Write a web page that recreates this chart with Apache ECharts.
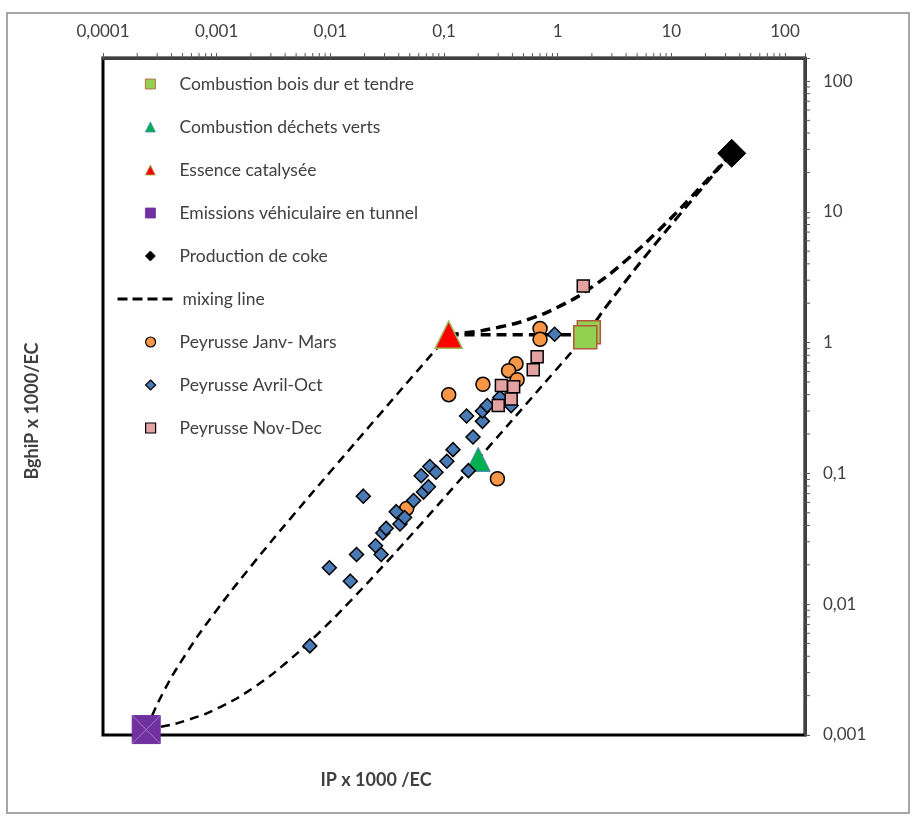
<!DOCTYPE html>
<html>
<head>
<meta charset="utf-8">
<script src="https://cdn.jsdelivr.net/npm/echarts@6/dist/echarts.min.js"></script>
<style>
  html, body { margin: 0; padding: 0; background: #ffffff; }
  #chart { width: 912px; height: 820px; }
</style>
</head>
<body>
<div id="chart"></div>
<script>
// End-members (IP x 1000/EC, BghiP x 1000/EC)
const woodBurning = [[1.88, 1.2], [1.75, 1.1]];
const greenWasteBurning = [[0.2, 0.128]];
const catalyticGasoline = [[0.11, 1.15]];
const tunnelEmissions = [[0.00024, 0.0011]];
const cokeProduction = [[34, 28]];

// Peyrusse samples, by season
const peyrusseJanMar = [
  [0.70, 1.28], [0.70, 1.06], [0.43, 0.69], [0.37, 0.61], [0.44, 0.52],
  [0.22, 0.48], [0.11, 0.40], [0.295, 0.091], [0.047, 0.054]
];
const peyrusseAprOct = [
  [0.0066, 0.0048], [0.0098, 0.019], [0.015, 0.015], [0.017, 0.024], [0.0195, 0.067],
  [0.025, 0.028], [0.028, 0.024], [0.029, 0.035], [0.031, 0.038], [0.038, 0.051],
  [0.041, 0.041], [0.045, 0.046], [0.054, 0.062], [0.066, 0.072], [0.073, 0.079],
  [0.063, 0.096], [0.075, 0.113], [0.085, 0.102], [0.106, 0.124], [0.12, 0.152],
  [0.164, 0.105], [0.18, 0.19], [0.158, 0.275], [0.218, 0.25], [0.218, 0.30],
  [0.24, 0.33], [0.39, 0.33], [0.31, 0.38], [0.94, 1.16]
];
const peyrusseNovDec = [
  [1.68, 2.71], [0.66, 0.78], [0.61, 0.62], [0.32, 0.47], [0.41, 0.46],
  [0.39, 0.37], [0.30, 0.33]
];

// Mixing lines between pairs of end-members
const mixTunnelGasoline = [
  [0.00024, 0.0011], [0.000295, 0.00167], [0.000405, 0.00282], [0.00068, 0.0057],
  [0.00134, 0.0126], [0.00298, 0.0298], [0.00683, 0.070], [0.0167, 0.173],
  [0.0387, 0.403], [0.0716, 0.748], [0.11, 1.15]
];
const mixTunnelWood = [
  [0.00024, 0.0011], [0.00042, 0.00121], [0.00078, 0.00144], [0.0015, 0.0019],
  [0.00294, 0.00282], [0.00564, 0.00455], [0.011, 0.008], [0.0218, 0.0149],
  [0.0452, 0.0298], [0.0902, 0.0585], [0.18, 0.116], [0.36, 0.231],
  [0.72, 0.461], [1.26, 0.805], [1.8, 1.15]
];
const mixGasolineWood = [[0.11, 1.15], [1.8, 1.15]];
const mixGasolineCoke = [
  [0.11, 1.15], [0.212, 1.23], [0.449, 1.42], [0.788, 1.69], [1.47, 2.22],
  [2.82, 3.30], [5.53, 5.45], [10.95, 9.74], [20.4, 17.3], [34, 28]
];
const mixWoodCoke = [
  [1.8, 1.15], [2.44, 1.69], [3.41, 2.49], [5.02, 3.84], [8.24, 6.52],
  [14.7, 11.9], [24.3, 19.9], [34, 28]
];

// Axis ranges and ticks
const xRange = [0.0001, 150];
const yRange = [0.001, 150];
const xDecades = [0.0001, 0.001, 0.01, 0.1, 1, 10];
const yDecades = [0.001, 0.01, 0.1, 1, 10];
const minorSteps = [2, 3, 4, 5, 6, 7, 8, 9];

const FONT = 'Lato, "Open Sans", sans-serif';
const TEXT = '#404040';

const xMinor = xDecades.flatMap(d => minorSteps.map(m => d * m));
const yMinor = yDecades.flatMap(d => minorSteps.map(m => d * m));

function decadeLabel(v) {
  const e = Math.log10(v);
  const r = Math.round(e);
  if (Math.abs(e - r) > 1e-6) return '';
  const s = r >= 0 ? String(Math.round(Math.pow(10, r))) : Math.pow(10, r).toFixed(-r);
  return s.replace('.', ',');
}

const mixStyle = { color: '#000', width: 2.5, type: [9, 6] };
const mixStyleBold = { color: '#000', width: 3.5, type: [10, 6] };

function mixSeries(data, style) {
  return {
    type: 'line', name: 'mixing line', data: data, symbol: 'none',
    smooth: 0.2, lineStyle: style,
    itemStyle: { color: 'rgba(0,0,0,0)', borderWidth: 0 },
    z: 2, silent: true
  };
}

function minorTickSeries(values, horizontal) {
  return {
    type: 'custom', silent: true, z: 1,
    data: values.map(v => horizontal ? [v, yRange[1]] : [xRange[1], v]),
    renderItem: function (params, api) {
      const p = api.coord([api.value(0), api.value(1)]);
      return {
        type: 'line',
        shape: horizontal
          ? { x1: p[0], y1: p[1], x2: p[0], y2: p[1] - 5 }
          : { x1: p[0], y1: p[1], x2: p[0] + 5, y2: p[1] },
        style: { stroke: '#595959', lineWidth: 1 }
      };
    }
  };
}

const ICON_RECT = 'path://M0,0H10V10H0Z';
const ICON_TRI = 'path://M5,0L10,10H0Z';
const ICON_DIAMOND = 'path://M5,0L10,5L5,10L0,5Z';
const ICON_X = 'path://M0,0L10,10M10,0L0,10';

const legendText = { fontFamily: FONT, fontSize: 17.5, color: TEXT, lineHeight: 18 };

const chart = echarts.init(document.getElementById('chart'), null, { renderer: 'canvas' });

chart.setOption({
  animation: false,
  backgroundColor: '#ffffff',
  grid: {
    left: 103, right: 107, top: 58, bottom: 85,
    show: true, borderColor: '#000', borderWidth: 3, backgroundColor: 'transparent'
  },
  xAxis: {
    type: 'log', logBase: 10, position: 'top',
    min: xRange[0], max: xRange[1],
    axisLine: { show: true, lineStyle: { color: '#404040', width: 3 } },
    axisTick: { show: true, inside: false, length: 5, lineStyle: { color: '#595959', width: 1 } },
    axisLabel: { margin: 18, fontFamily: FONT, fontSize: 17, color: TEXT, formatter: decadeLabel },
    splitLine: { show: false }
  },
  yAxis: {
    type: 'log', logBase: 10, position: 'right',
    min: yRange[0], max: yRange[1],
    axisLine: { show: true, lineStyle: { color: '#404040', width: 3 } },
    axisTick: { show: true, inside: false, length: 5, lineStyle: { color: '#595959', width: 1 } },
    axisLabel: { margin: 18, fontFamily: FONT, fontSize: 17, color: TEXT, formatter: decadeLabel },
    splitLine: { show: false }
  },
  legend: [
    {
      orient: 'vertical', left: 145, top: 75, padding: 0, itemGap: 25,
      itemWidth: 48, itemHeight: 10, textStyle: legendText, selectedMode: false,
      itemStyle: { borderWidth: 0.8 },
      data: [
        { name: 'Combustion bois dur et tendre', icon: ICON_RECT },
        { name: 'Combustion déchets verts', icon: ICON_TRI },
        { name: 'Essence catalysée', icon: ICON_TRI },
        { name: 'Emissions véhiculaire en tunnel', icon: ICON_RECT },
        { name: 'Production de coke', icon: ICON_DIAMOND }
      ]
    },
    {
      orient: 'vertical', left: 116, top: 290, padding: 0,
      itemWidth: 60, itemHeight: 12, textStyle: legendText, selectedMode: false,
      lineStyle: { color: '#000', width: 3, type: [10, 5] },
      itemStyle: { opacity: 0 },
      data: ['mixing line']
    },
    {
      orient: 'vertical', left: 145, top: 333, padding: 0, itemGap: 25,
      itemWidth: 48, itemHeight: 10, textStyle: legendText, selectedMode: false,
      itemStyle: { borderWidth: 1.2 },
      data: [
        { name: 'Peyrusse Janv- Mars', icon: 'circle' },
        { name: 'Peyrusse Avril-Oct', icon: ICON_DIAMOND },
        { name: 'Peyrusse Nov-Dec', icon: ICON_RECT }
      ]
    }
  ],
  graphic: [
    {
      type: 'rect', silent: true, z: -10,
      shape: { x: 7, y: 13, width: 902, height: 800 },
      style: { fill: 'none', stroke: '#a6a6a6', lineWidth: 2 }
    },
    {
      type: 'text', x: 376, y: 780, silent: true,
      style: { text: 'IP x 1000 /EC', font: 'bold 18px ' + FONT, fill: TEXT, align: 'center', verticalAlign: 'middle' }
    },
    {
      type: 'text', x: 32, y: 411, rotation: Math.PI / 2, silent: true,
      style: { text: 'BghiP x 1000/EC', font: 'bold 18px ' + FONT, fill: TEXT, align: 'center', verticalAlign: 'middle' }
    }
  ],
  series: [
    minorTickSeries(xMinor, true),
    minorTickSeries(yMinor, false),
    mixSeries(mixGasolineWood, mixStyleBold),
    mixSeries(mixGasolineCoke, mixStyleBold),
    mixSeries(mixWoodCoke, { color: '#000', width: 3, type: [10, 6] }),
    mixSeries(mixTunnelGasoline, mixStyle),
    mixSeries(mixTunnelWood, mixStyle),
    {
      type: 'scatter', name: 'Combustion bois dur et tendre', data: woodBurning,
      symbol: 'rect', symbolSize: 23, z: 4,
      itemStyle: { color: '#92d050', borderColor: '#b5553a', borderWidth: 1.5, opacity: 1 }
    },
    {
      type: 'scatter', name: 'Combustion déchets verts', data: greenWasteBurning,
      symbol: 'triangle', symbolSize: 24, z: 4,
      itemStyle: { color: '#00b050', borderColor: '#4f81bd', borderWidth: 1, opacity: 1 }
    },
    {
      type: 'scatter', name: 'Essence catalysée', data: catalyticGasoline,
      symbol: 'triangle', symbolSize: 27, z: 4,
      itemStyle: { color: '#ff0000', borderColor: '#9bbb59', borderWidth: 1.5, opacity: 1 }
    },
    {
      type: 'scatter', name: 'Emissions véhiculaire en tunnel', data: tunnelEmissions,
      symbol: 'rect', symbolSize: 28, z: 4,
      itemStyle: { color: '#7030a0', borderColor: '#7030a0', borderWidth: 1, opacity: 1 }
    },
    {
      type: 'scatter', name: 'Emissions véhiculaire en tunnel', data: tunnelEmissions,
      symbol: ICON_X, symbolSize: 28, z: 4, silent: true,
      itemStyle: { color: 'transparent', borderColor: '#9d7fc2', borderWidth: 1, opacity: 1 }
    },
    {
      type: 'scatter', name: 'Production de coke', data: cokeProduction,
      symbol: 'diamond', symbolSize: 28, z: 4,
      itemStyle: { color: '#000000', borderColor: '#000000', borderWidth: 1, opacity: 1 }
    },
    {
      type: 'scatter', name: 'Peyrusse Janv- Mars', data: peyrusseJanMar,
      symbol: 'circle', symbolSize: 14, z: 5,
      itemStyle: { color: '#f79646', borderColor: '#000000', borderWidth: 1.5, opacity: 1 }
    },
    {
      type: 'scatter', name: 'Peyrusse Avril-Oct', data: peyrusseAprOct,
      symbol: 'diamond', symbolSize: 14, z: 5,
      itemStyle: { color: '#4a7ab5', borderColor: '#000000', borderWidth: 1.5, opacity: 1 }
    },
    {
      type: 'scatter', name: 'Peyrusse Nov-Dec', data: peyrusseNovDec,
      symbol: 'rect', symbolSize: 12, z: 5,
      itemStyle: { color: '#e3a1a1', borderColor: '#000000', borderWidth: 1.5, opacity: 1 }
    }
  ]
});
</script>
</body>
</html>
